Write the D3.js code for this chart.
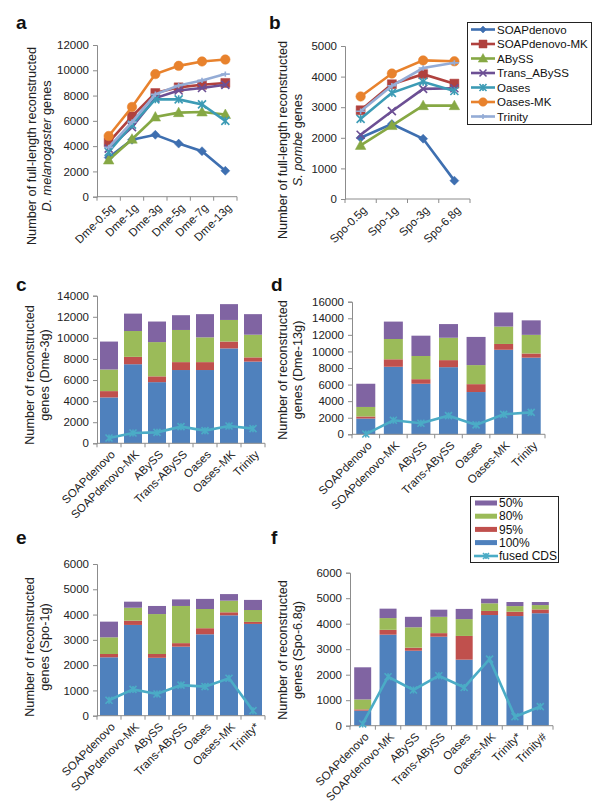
<!DOCTYPE html>
<html><head><meta charset="utf-8">
<script src="https://cdn.jsdelivr.net/npm/d3@7"></script>
<style>
body{margin:0;background:#fff;}
svg{font-family:"Liberation Sans",Arial,sans-serif;}
</style></head>
<body><svg id="chart" width="600" height="804"></svg>
<script>
// ---------- DATA ----------
const seriesNames = ["SOAPdenovo","SOAPdenovo-MK","ABySS","Trans_ABySS","Oases","Oases-MK","Trinity"];
const dmeCats = ["Dme-0.5g","Dme-1g","Dme-3g","Dme-5g","Dme-7g","Dme-13g"];
const dmeSOAP    = [3100, 4500, 4900, 4200, 3600, 2050];
const dmeSOAPMK  = [4300, 6350, 8200, 8650, 8850, 9000];
const dmeABySS   = [2900, 4550, 6300, 6650, 6700, 6500];
const dmeTrans   = [3800, 5500, 7800, 8400, 8600, 8850];
const dmeOases   = [3550, 5700, 7700, 7700, 7300, 6000];
const dmeOasesMK = [4800, 7100, 9700, 10350, 10700, 10850];
const dmeTrinity = [3900, 5900, 8100, 8800, 9200, 9700];
const dmeTicks = [0,2000,4000,6000,8000,10000,12000];

const spoCats = ["Spo-0.5g","Spo-1g","Spo-3g","Spo-6.8g"];
const spoSOAP    = [2000, 2450, 1970, 600];
const spoSOAPMK  = [2900, 3750, 4080, 3770];
const spoABySS   = [1750, 2400, 3050, 3050];
const spoTrans   = [2100, 2870, 3600, 3620];
const spoOases   = [2620, 3470, 3830, 3530];
const spoOasesMK = [3350, 4100, 4530, 4500];
const spoTrinity = [2870, 3700, 4280, 4450];
const spoTicks = [0,1000,2000,3000,4000,5000];

const stackNames = ["100%","95%","80%","50%"];
const cCats = ["SOAPdenovo","SOAPdenovo-MK","ABySS","Trans-ABySS","Oases","Oases-MK","Trinity"];
const c100 = [4350, 7500, 5800, 6950, 6950, 9000, 7750];
const c95  = [600, 700, 550, 750, 750, 650, 400];
const c80  = [2050, 2450, 3250, 3050, 2350, 2050, 2150];
const c50  = [2650, 1650, 1950, 1400, 2200, 1500, 1950];
const cFused = [500, 980, 1040, 1580, 1200, 1640, 1390];
const cTicks = [0,2000,4000,6000,8000,10000,12000,14000];

const dCats = ["SOAPdenovo","SOAPdenovo-MK","ABySS","Trans-ABySS","Oases","Oases-MK","Trinity"];
const d100 = [1900, 8150, 6100, 8100, 5100, 10200, 9250];
const d95  = [250, 900, 550, 850, 950, 700, 500];
const d80  = [1150, 2450, 2800, 2700, 2300, 2100, 2250];
const d50  = [2800, 2100, 2450, 1650, 3400, 1700, 1750];
const dFused = [30, 1690, 1330, 2250, 1130, 2410, 2650];
const dTicks = [0,2000,4000,6000,8000,10000,12000,14000,16000];

const eCats = ["SOAPdenovo","SOAPdenovo-MK","ABySS","Trans-ABySS","Oases","Oases-MK","Trinity*"];
const e100 = [2310, 3590, 2290, 2730, 3220, 3970, 3630];
const e95  = [130, 170, 150, 140, 240, 120, 80];
const e80  = [660, 510, 1580, 1470, 760, 460, 470];
const e50  = [620, 240, 320, 260, 400, 260, 400];
const eFused = [610, 1040, 860, 1210, 1150, 1480, 200];
const eTicks = [0,1000,2000,3000,4000,5000,6000];

const fCats = ["SOAPdenovo","SOAPdenovo-MK","ABySS","Trans-ABySS","Oases","Oases-MK","Trinity*","Trinity#"];
const f100 = [590, 3570, 2940, 3490, 2590, 4340, 4300, 4410];
const f95  = [50, 190, 120, 140, 930, 160, 170, 150];
const f80  = [390, 460, 800, 640, 660, 300, 220, 170];
const f50  = [1260, 370, 410, 280, 400, 180, 160, 120];
const fFused = [70, 1920, 1400, 1960, 1500, 2610, 350, 750];
const fTicks = [0,1000,2000,3000,4000,5000,6000];

// ---------- STYLE ----------
const lineColors = ["#3e6fb0","#b0413e","#86a844","#6c4f94","#3c9bb5","#e8822d","#94acd6"];
const markers = ["diamond","square","triangle","cross","asterisk","circle","plus"];
const stackColors = {"100%":"#4f81bd","95%":"#c0504d","80%":"#9bbb59","50%":"#8064a2"};
const fusedColor = "#4bacc6";
const axisColor = "#8c8c8c";
const FS = 11.5;

const svg = d3.select("#chart");

function markerPath(type, s){
  const h = s/2;
  switch(type){
    case "diamond": return `M0,${-h}L${h},0L0,${h}L${-h},0Z`;
    case "square": return `M${-h},${-h}H${h}V${h}H${-h}Z`;
    case "triangle": return `M0,${-h*1.1}L${h*1.05},${h*0.8}L${-h*1.05},${h*0.8}Z`;
    case "circle": return d3.symbol(d3.symbolCircle, Math.PI*h*h)();
    case "cross": return `M${-h},${-h}L${h},${h}M${-h},${h}L${h},${-h}`;
    case "asterisk": return `M${-h},${-h}L${h},${h}M${-h},${h}L${h},${-h}M0,${-h}V${h}`;
    case "plus": return `M${-h},0H${h}M0,${-h*0.6}V${h*0.6}`;
  }
}
function drawMarker(g, type, x, y, color, s){
  const filled = ["diamond","square","triangle","circle"].includes(type);
  g.append("path").attr("d", markerPath(type, s)).attr("transform",`translate(${x},${y})`)
    .attr("fill", filled?color:"none").attr("stroke", color).attr("stroke-width", filled?0.5:1.6);
}

function yAxis(g, y, x0, ticks){
  const ax = d3.axisLeft(y).tickValues(ticks).tickSize(4).tickPadding(4).tickFormat(d3.format("d"));
  const a = g.append("g").attr("transform",`translate(${x0},0)`).call(ax);
  a.select(".domain").attr("stroke",axisColor);
  a.selectAll(".tick line").attr("stroke",axisColor);
  a.selectAll("text").attr("font-size",FS).attr("fill","#222").style("font-family","Liberation Sans, Arial, sans-serif");
}
function xAxis(g, x, y0, cats){
  const r = x.range();
  g.append("line").attr("x1",r[0]).attr("x2",r[1]).attr("y1",y0).attr("y2",y0).attr("stroke",axisColor);
  const bounds = cats.map(c=>x(c)).concat([r[1]]);
  bounds.forEach(b=>g.append("line").attr("x1",b).attr("x2",b).attr("y1",y0).attr("y2",y0+4).attr("stroke",axisColor));
  cats.forEach(c=>{
    const cx = x(c)+x.bandwidth()/2+4, cy = y0+9;
    g.append("text").attr("transform",`translate(${cx},${cy}) rotate(-45)`).attr("text-anchor","end")
      .attr("dy","0.35em").attr("font-size",FS).attr("fill","#222").text(c);
  });
}
function yTitle(g, x, y, line1, line2parts){
  const t = g.append("text").attr("transform",`translate(${x},${y}) rotate(-90)`).attr("text-anchor","middle")
    .attr("font-size",12.7).attr("fill","#222");
  t.append("tspan").attr("x",0).attr("dy","-0.15em").text(line1);
  const t2 = t.append("tspan").attr("x",0).attr("dy","1.15em");
  line2parts.forEach(p=>t2.append("tspan").attr("font-style",p.it?"italic":"normal").text(p.t));
}
function panelLabel(x,y,l){
  svg.append("text").attr("x",x).attr("y",y).attr("font-size",19).attr("font-weight","bold").attr("fill","#111").text(l);
}

function linePanel(cats, seriesVals, ticks, xr, yr, ymax){
  const g = svg.append("g");
  const x = d3.scaleBand().domain(cats).range(xr);
  const y = d3.scaleLinear().domain([0,ymax]).range(yr);
  yAxis(g, y, xr[0], ticks);
  xAxis(g, x, yr[0], cats);
  seriesVals.forEach((vals,i)=>{
    const line = d3.line().x((d,j)=>x(cats[j])+x.bandwidth()/2).y(d=>y(d));
    g.append("path").datum(vals).attr("d",line).attr("fill","none").attr("stroke",lineColors[i]).attr("stroke-width",2.6);
    vals.forEach((v,j)=>{
      const s = {diamond:9,square:9,triangle:10,circle:9.5,cross:8,asterisk:8,plus:9}[markers[i]];
      drawMarker(g, markers[i], x(cats[j])+x.bandwidth()/2, y(v), lineColors[i], s);
    });
  });
}

function barPanel(cats, stacks, fused, ticks, xr, yr, ymax, bw){
  const g = svg.append("g");
  const x = d3.scaleBand().domain(cats).range(xr);
  const y = d3.scaleLinear().domain([0,ymax]).range(yr);
  const rows = cats.map((c,i)=>({cat:c,"100%":stacks[0][i],"95%":stacks[1][i],"80%":stacks[2][i],"50%":stacks[3][i]}));
  const st = d3.stack().keys(stackNames)(rows);
  st.forEach(layer=>{
    g.selectAll(null).data(layer).join("rect")
      .attr("x",d=>x(d.data.cat)+x.bandwidth()/2-bw/2).attr("width",bw)
      .attr("y",d=>y(d[1])).attr("height",d=>y(d[0])-y(d[1]))
      .attr("fill",stackColors[layer.key]);
  });
  yAxis(g, y, xr[0], ticks);
  xAxis(g, x, yr[0], cats);
  const line = d3.line().x((d,j)=>x(cats[j])+x.bandwidth()/2).y(d=>y(d));
  g.append("path").datum(fused).attr("d",line).attr("fill","none").attr("stroke",fusedColor).attr("stroke-width",2.6);
  fused.forEach((v,j)=>drawMarker(g,"asterisk",x(cats[j])+x.bandwidth()/2,y(v),fusedColor,7));
}

// ---------- PANELS ----------
panelLabel(16,29,"a");
linePanel(dmeCats,[dmeSOAP,dmeSOAPMK,dmeABySS,dmeTrans,dmeOases,dmeOasesMK,dmeTrinity],dmeTicks,[97,237],[196.7,45],12000);
yTitle(svg,38,146,"Number of full-length reconstructed",[{t:"D. melanogaster",it:true},{t:" genes"}]);

panelLabel(269,29,"b");
linePanel(spoCats,[spoSOAP,spoSOAPMK,spoABySS,spoTrans,spoOases,spoOasesMK,spoTrinity],spoTicks,[345,470],[199,46],5000);
yTitle(svg,289,140,"Number of full-length reconstructed",[{t:"S. pombe",it:true},{t:" genes"}]);

// legend 1
(function(){
  const g = svg.append("g");
  g.append("rect").attr("x",467.5).attr("y",22.5).attr("width",124).attr("height",102).attr("fill","#fff").attr("stroke","#222").attr("stroke-width",1);
  seriesNames.forEach((n,i)=>{
    const yy = 29.5 + i*14.5;
    g.append("line").attr("x1",471).attr("x2",495).attr("y1",yy).attr("y2",yy).attr("stroke",lineColors[i]).attr("stroke-width",2.6);
    const s = {diamond:7,square:8,triangle:9,circle:8.5,cross:7,asterisk:7,plus:8}[markers[i]];
    drawMarker(g, markers[i], 483, yy, lineColors[i], s);
    g.append("text").attr("x",497).attr("y",yy).attr("dy","0.35em").attr("font-size",FS).attr("fill","#111").text(n);
  });
})();

panelLabel(16,291,"c");
barPanel(cCats,[c100,c95,c80,c50],cFused,cTicks,[97,265],[443.3,295.7],14000,18);
yTitle(svg,36,375,"Number of reconstructed",[{t:"genes (Dme-3g)"}]);

panelLabel(271,291,"d");
barPanel(dCats,[d100,d95,d80,d50],dFused,dTicks,[352,545],[434.3,301.7],16000,19);
yTitle(svg,289,370,"Number of reconstructed",[{t:"genes (Dme-13g)"}]);

panelLabel(16,544,"e");
barPanel(eCats,[e100,e95,e80,e50],eFused,eTicks,[97,265],[715.7,564],6000,18);
yTitle(svg,36,647,"Number of reconstructed",[{t:"genes (Spo-1g)"}]);

panelLabel(271,544,"f");
barPanel(fCats,[f100,f95,f80,f50],fFused,fTicks,[350,553],[725.7,572.7],6000,17);
yTitle(svg,289,650,"Number of reconstructed",[{t:"genes (Spo-6.8g)"}]);

// legend 2
(function(){
  const g = svg.append("g");
  g.append("rect").attr("x",470.5).attr("y",496.5).attr("width",88).attr("height",66).attr("fill","#fff").attr("stroke","#222").attr("stroke-width",1);
  const items = ["50%","80%","95%","100%"];
  items.forEach((n,i)=>{
    const yy = 503 + i*13.2;
    g.append("rect").attr("x",475).attr("y",yy-2.5).attr("width",22).attr("height",5).attr("fill",stackColors[n]);
    g.append("text").attr("x",499).attr("y",yy).attr("dy","0.35em").attr("font-size",FS+0.5).attr("fill","#111").text(n);
  });
  const yy = 556;
  g.append("line").attr("x1",474).attr("x2",498).attr("y1",yy).attr("y2",yy).attr("stroke",fusedColor).attr("stroke-width",2.6);
  drawMarker(g,"asterisk",486,yy,fusedColor,6);
  g.append("text").attr("x",499).attr("y",yy).attr("dy","0.35em").attr("font-size",FS+0.5).attr("fill","#111").text("fused CDS");
})();
</script></body></html>
